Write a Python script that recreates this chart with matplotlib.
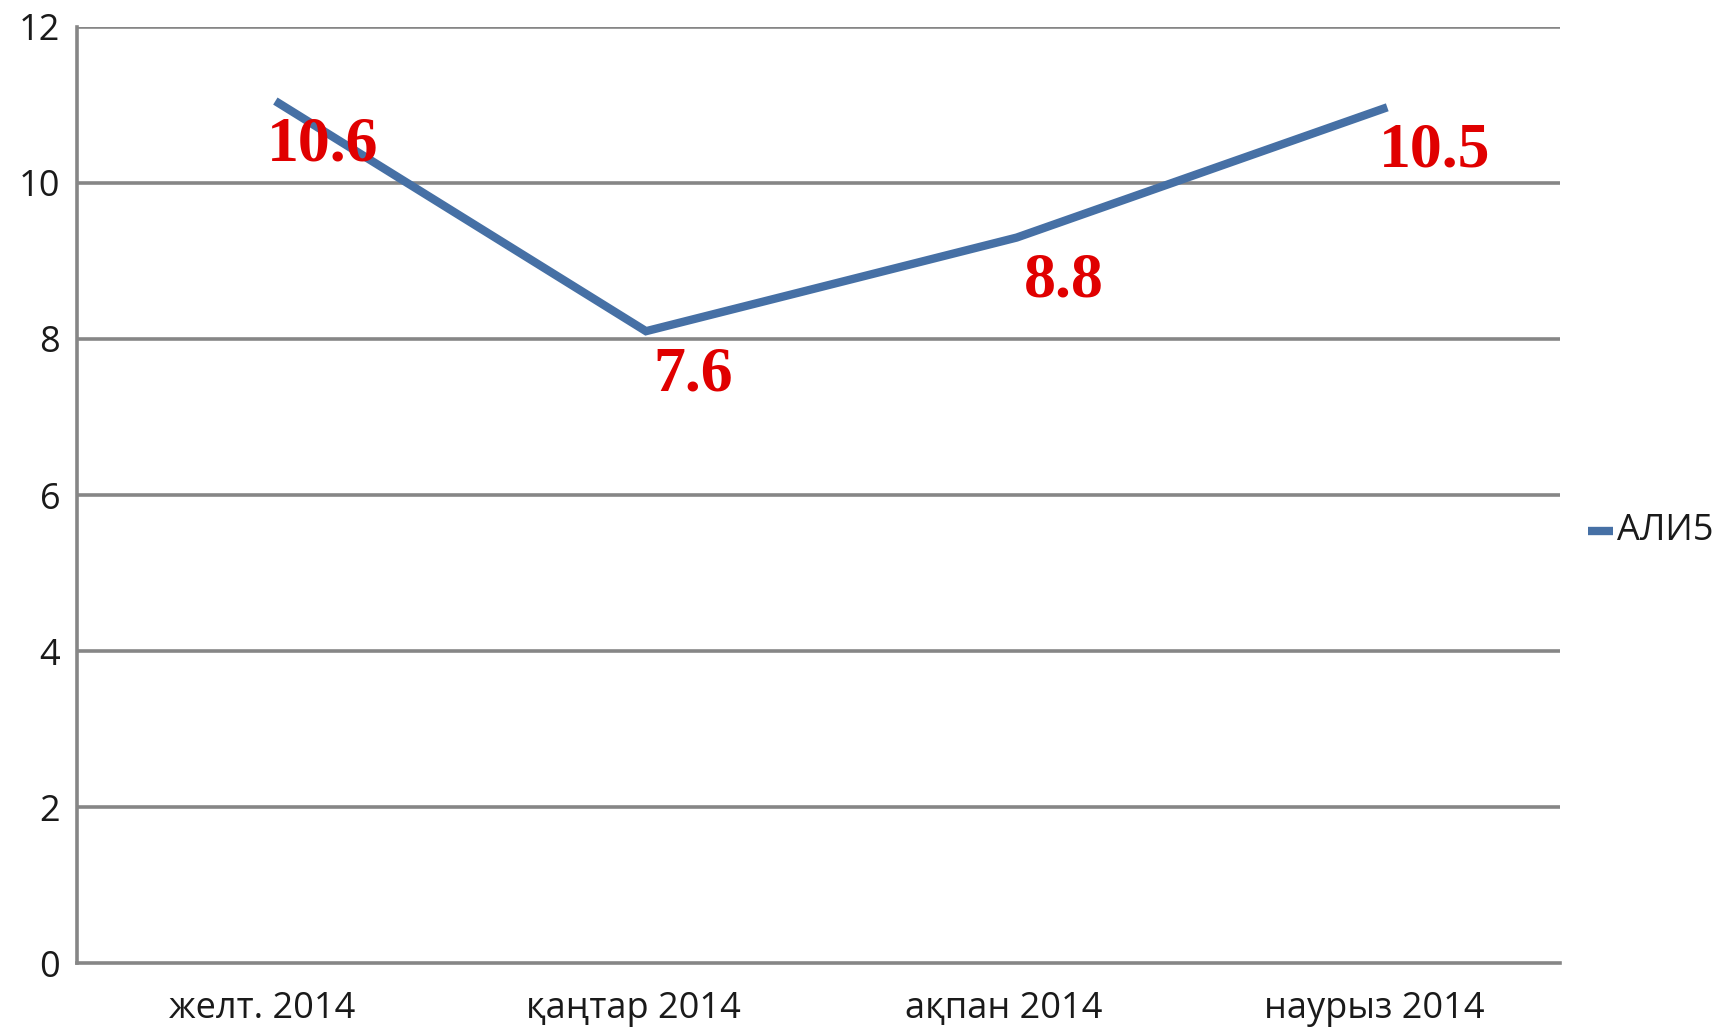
import matplotlib
matplotlib.use("Agg")
import matplotlib.pyplot as plt
import matplotlib.transforms as mtransforms

categories = ["желт. 2014", "қаңтар 2014", "ақпан 2014", "наурыз 2014"]
values = [11.05, 8.1, 9.3, 10.97]
value_labels = ["10.6", "7.6", "8.8", "10.5"]
series_name = "АЛИ5"
yticks = [0, 2, 4, 6, 8, 10, 12]

fig = plt.figure(figsize=(17.35, 10.29), dpi=100)
ax = fig.add_axes([0.0444, 0.0641, 0.8545, 0.9097])

line_color = "#4670A5"
grid_color = "#868686"
text_color = "#1a1a1a"
tick_font = "Open Sans"

x = list(range(len(categories)))
shift = mtransforms.offset_copy(ax.transData, fig=fig, x=13, y=0, units="dots")
ax.plot(x, values, color=line_color, lw=6.0, solid_capstyle="butt",
        solid_joinstyle="miter", transform=shift, zorder=3)

for i, (v, lab) in enumerate(zip(values, value_labels)):
    ax.annotate(lab, xy=(i, v), xytext=(60, -44), textcoords="offset pixels",
                ha="center", va="center", color="#E00000", fontsize=46,
                fontweight="bold", family="Liberation Serif", zorder=4)

ax.set_xlim(-0.5, len(categories) - 0.5)
ax.set_ylim(0, 12)
ax.set_yticks(yticks)
ax.set_yticklabels([str(t) for t in yticks], family=tick_font, fontsize=26, color=text_color)
ax.set_xticks(x)
ax.set_xticklabels(categories, family=tick_font, fontsize=26, color=text_color)
ax.tick_params(axis="both", length=0)
ax.tick_params(axis="y", pad=12)
ax.tick_params(axis="x", pad=20)

for t in yticks[1:]:
    ax.axhline(t, color=grid_color, lw=2.6, zorder=1)

for s in ["top", "right"]:
    ax.spines[s].set_visible(False)
ax.spines["left"].set_color(grid_color)
ax.spines["left"].set_linewidth(2.6)
ax.spines["bottom"].set_color(grid_color)
ax.spines["bottom"].set_linewidth(2.6)

# legend
fig.lines.append(plt.Line2D([1588 / 1735, 1613 / 1735], [1 - 531 / 1029, 1 - 531 / 1029],
                            transform=fig.transFigure, color=line_color, lw=6.0,
                            solid_capstyle="butt"))
fig.text(1617 / 1735, 1 - 531 / 1029, series_name, family=tick_font, fontsize=26,
         color=text_color, ha="left", va="center")

fig.savefig("out.png", dpi=100)
